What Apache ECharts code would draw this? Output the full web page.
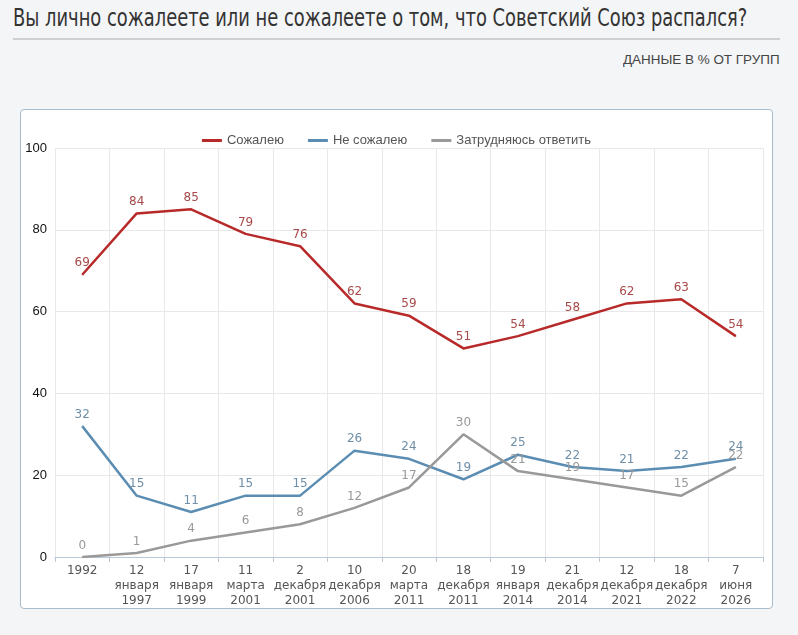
<!DOCTYPE html>
<html>
<head>
<meta charset="utf-8">
<script src="https://cdn.jsdelivr.net/npm/echarts@6/dist/echarts.min.js"></script>
<style>
  body { margin: 0; background: #f4f5f6; width: 798px; height: 635px; overflow: hidden; position: relative; }
  .title { position: absolute; left: 13px; top: 4px; font-family: "DejaVu Sans Condensed", sans-serif; font-size: 24px; color: #333; white-space: nowrap; transform-origin: 0 0; }
  .rule { position: absolute; left: 13px; top: 38px; width: 767px; height: 2px; background: #cfcfcf; }
  .sub { position: absolute; right: 18px; top: 52px; font-family: "Liberation Sans", sans-serif; font-size: 13px; color: #444; white-space: nowrap; transform-origin: 100% 0; }
  .box { position: absolute; left: 20px; top: 109px; width: 751px; height: 498px; background: #fff; border: 1px solid #a9bccb; border-radius: 4px; }
  #chart { width: 751px; height: 498px; }
</style>
</head>
<body>
<div class="title" id="title">Вы лично сожалеете или не сожалеете о том, что Советский Союз распался?</div>
<div class="rule"></div>
<div class="sub" id="sub">ДАННЫЕ В % ОТ ГРУПП</div>
<div class="box"><div id="chart"></div></div>
<script>
const categories = ['1992', '12\nянваря\n1997', '17\nянваря\n1999', '11\nмарта\n2001', '2\nдекабря\n2001',
  '10\nдекабря\n2006', '20\nмарта\n2011', '18\nдекабря\n2011', '19\nянваря\n2014', '21\nдекабря\n2014',
  '12\nдекабря\n2021', '18\nдекабря\n2022', '7\nиюня\n2026']
const regret = [69, 84, 85, 79, 76, 62, 59, 51, 54, 58, 62, 63, 54]
const noRegret = [32, 15, 11, 15, 15, 26, 24, 19, 25, 22, 21, 22, 24]
const hardToSay = [0, 1, 4, 6, 8, 12, 17, 30, 21, 19, 17, 15, 22]

// squeeze the heading text to the narrow width of the original
function fit(id, w) {
  var el = document.getElementById(id)
  el.style.transform = 'scaleX(' + (w / el.offsetWidth) + ')'
}
fit('title', 734)
fit('sub', 157)

var myChart = echarts.init(document.getElementById('chart'))

function line(name, data, color, labelColor) {
  return {
    name: name,
    type: 'line',
    data: data,
    symbol: 'circle',
    symbolSize: 1,
    lineStyle: { color: color, width: 2.5 },
    itemStyle: { color: color },
    label: {
      show: true,
      position: 'top',
      distance: 5,
      color: labelColor,
      fontFamily: 'DejaVu Sans',
      fontSize: 12
    }
  }
}

var option = {
  animation: false,
  textStyle: { fontFamily: 'DejaVu Sans' },
  legend: {
    top: 19,
    left: 'center',
    icon: 'rect',
    itemWidth: 20,
    itemHeight: 3,
    itemGap: 24,
    textStyle: { color: '#555', fontSize: 13, fontFamily: 'Liberation Sans' },
    data: ['Сожалею', 'Не сожалею', 'Затрудняюсь ответить']
  },
  grid: { left: 34, right: 9, top: 38, bottom: 48 },
  xAxis: {
    type: 'category',
    data: categories,
    boundaryGap: true,
    axisLine: { lineStyle: { color: '#b8c8d6' } },
    axisTick: { show: true, lineStyle: { color: '#b8c8d6' } },
    splitLine: { show: true, lineStyle: { color: '#e8e8e8' } },
    axisLabel: { color: '#555', fontSize: 12, lineHeight: 15, interval: 0, margin: 6 }
  },
  yAxis: {
    type: 'value',
    min: 0,
    max: 100,
    interval: 20,
    axisLine: { show: false },
    axisTick: { show: false },
    splitLine: { lineStyle: { color: '#e8e8e8' } },
    axisLabel: { color: '#111', fontSize: 13, fontFamily: 'Liberation Sans', margin: 8 }
  },
  series: [
    line('Сожалею', regret, '#b82a2a', '#a84a4a'),
    line('Не сожалею', noRegret, '#5b8db3', '#6f8fa8'),
    line('Затрудняюсь ответить', hardToSay, '#999999', '#999999')
  ]
}
option && myChart.setOption(option)
</script>
</body>
</html>
